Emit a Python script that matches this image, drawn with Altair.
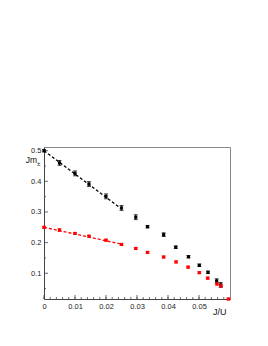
import altair as alt
import pandas as pd

# ---- data ----
black_x = [0, 0.005, 0.01, 0.0145, 0.02, 0.025, 0.0296, 0.0334, 0.0386, 0.0425, 0.0466, 0.0501, 0.0529, 0.0557, 0.057]
black_y = [0.500, 0.460, 0.426, 0.391, 0.351, 0.313, 0.283, 0.252, 0.226, 0.185, 0.154, 0.126, 0.103, 0.075, 0.062]
black_err = [0.004, 0.008, 0.008, 0.008, 0.008, 0.008, 0.008, 0.004, 0.006, 0.004, 0.004, 0.004, 0.004, 0.007, 0.008]

red_x = [0, 0.005, 0.01, 0.0145, 0.02, 0.025, 0.0296, 0.0334, 0.0386, 0.0426, 0.0465, 0.0501, 0.0528, 0.0558, 0.0571, 0.0595]
red_y = [0.250, 0.241, 0.230, 0.221, 0.208, 0.194, 0.181, 0.168, 0.153, 0.137, 0.120, 0.102, 0.084, 0.065, 0.059, 0.016]
red_err = [0.003, 0.004, 0.003, 0.003, 0.003, 0.003, 0.003, 0.003, 0.003, 0.003, 0.003, 0.003, 0.003, 0.003, 0.003, 0.003]

fit_black_x = [0, 0.025]
fit_black_y = [0.5, 0.31]
fit_red_x = [0, 0.025]
fit_red_y = [0.25, 0.195]

x_major = [0, 0.01, 0.02, 0.03, 0.04, 0.05]
x_minor = [i * 0.002 for i in range(30)]
y_major = [0.1, 0.2, 0.3, 0.4, 0.5]
y_minor = [0.05, 0.15, 0.25, 0.35, 0.45]

X_DOM = [0, 0.06]
Y_DOM = [0.016, 0.512]
W, H = 186, 152
FONT = "Liberation Sans"

XS = alt.Scale(domain=X_DOM, nice=False, zero=False)
YS = alt.Scale(domain=Y_DOM, nice=False, zero=False)

axis_x = alt.Axis(values=x_major, format="~g", ticks=False, grid=False, title=None,
                  labelFont=FONT, labelFontSize=7.5, labelColor="#222", labelPadding=3,
                  domainColor="#444", labelFlush=False, labelOverlap=False)
axis_y = alt.Axis(values=y_major, format="~g", ticks=False, grid=False, title=None,
                  labelFont=FONT, labelFontSize=7.5, labelColor="#222", labelPadding=3,
                  domainColor="#444", labelOverlap=False, labelFlush=False)

def X(f):
    return alt.X(f, scale=XS, axis=axis_x)

def Y(f):
    return alt.Y(f, scale=YS, axis=axis_y)

def pts(xs, ys, es, color):
    df = pd.DataFrame({"x": xs, "y": ys, "lo": [a - b for a, b in zip(ys, es)], "hi": [a + b for a, b in zip(ys, es)]})
    base = alt.Chart(df)
    bar = base.mark_rule(color=color, strokeWidth=1).encode(x=X("x:Q"), y=Y("lo:Q"), y2="hi:Q")
    cap_lo = base.mark_tick(color=color, orient="horizontal", size=4, thickness=1).encode(x=X("x:Q"), y=Y("lo:Q"))
    cap_hi = base.mark_tick(color=color, orient="horizontal", size=4, thickness=1).encode(x=X("x:Q"), y=Y("hi:Q"))
    sq = base.mark_square(color=color, size=10, opacity=1).encode(x=X("x:Q"), y=Y("y:Q"))
    return [bar, cap_lo, cap_hi, sq]

def fit(xs, ys, color):
    df = pd.DataFrame({"x": xs, "y": ys})
    return alt.Chart(df).mark_line(color=color, strokeDash=[3, 2], strokeWidth=1.3).encode(
        x=X("x:Q"), y=Y("y:Q"))

def xticks(vals, ln):
    return alt.Chart(pd.DataFrame({"t": vals})).mark_rule(color="#444", strokeWidth=0.8).encode(
        x=X("t:Q"), y=alt.value(H), y2=alt.value(H - ln))

def yticks(vals, ln):
    return alt.Chart(pd.DataFrame({"t": vals})).mark_rule(color="#444", strokeWidth=0.8).encode(
        y=Y("t:Q"), x=alt.value(0), x2=alt.value(ln))

labels = [
    alt.Chart(pd.DataFrame({"s": ["Jm"]})).mark_text(font=FONT, fontSize=8.5, align="right", baseline="middle", color="#111").encode(
        text="s:N", x=alt.value(-7), y=alt.value(13)),
    alt.Chart(pd.DataFrame({"s": ["±"]})).mark_text(font=FONT, fontSize=6, align="left", baseline="middle", color="#111").encode(
        text="s:N", x=alt.value(-7), y=alt.value(17)),
    alt.Chart(pd.DataFrame({"s": ["J/U"]})).mark_text(font=FONT, fontSize=9, align="left", baseline="middle", color="#111").encode(
        text="s:N", x=alt.value(169), y=alt.value(165)),
]

layers = [xticks(x_minor, 2), xticks(x_major, 4), yticks(y_minor, 2), yticks(y_major, 4),
          fit(fit_black_x, fit_black_y, "black"), fit(fit_red_x, fit_red_y, "red")]
layers += pts(black_x, black_y, black_err, "black")
layers += pts(red_x, red_y, red_err, "red")
layers += labels

chart = alt.layer(*layers).properties(
    width=W, height=H,
    autosize=alt.AutoSizeParams(type="none"),
    padding={"left": 36, "top": 139, "right": 30, "bottom": 40},
    background="white",
).configure_view(stroke="#888", strokeWidth=1).configure_axis(labelOverlap=False, labelFlush=False)

chart.save("out.html", embed_options={"renderer": "svg", "actions": False})
